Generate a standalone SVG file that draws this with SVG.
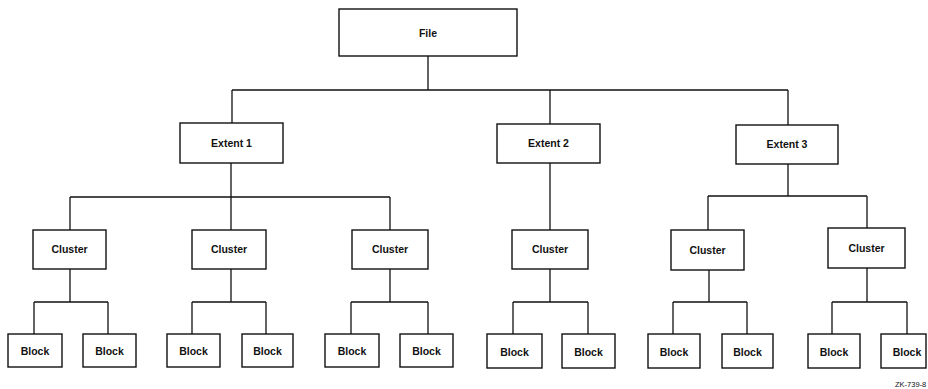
<svg xmlns="http://www.w3.org/2000/svg" width="928" height="389" viewBox="0 0 928 389">
<style>
.box{fill:#fff;stroke:#111;stroke-width:1.4}
.lbl{font-family:"Liberation Sans",Arial,sans-serif;font-size:10.5px;font-weight:bold;fill:#111;text-anchor:middle}
#connectors path{fill:none;stroke:#111;stroke-width:1.3}
.tag{font-family:"Liberation Sans",Arial,sans-serif;font-size:7.5px;fill:#111}
</style>
<rect width="928" height="389" fill="#fff"/>
<g id="connectors">
<path d="M428 56V90M232 90H788M232 90V123M550 90V124M788 90V125"/>
<path d="M231 163V197M70 197H390M70 197V230M231 197V230M390 197V230"/>
<path d="M550 163V230"/>
<path d="M788 164V196M708 196H867M708 196V230M867 196V228"/>
<path d="M70 269V302M34 302H108M34 302V334M108 302V334"/>
<path d="M231 269V302M192 302H266M192 302V334M266 302V334"/>
<path d="M390 269V302M351 302H428M351 302V334M428 302V334"/>
<path d="M550 269V302M513 302H588M513 302V334M588 302V334"/>
<path d="M709 270V302M673 302H747M673 302V334M747 302V334"/>
<path d="M867 268V302M832 302H907M832 302V334M907 302V334"/>
</g>
<g id="file"><rect class="box" x="339" y="9" width="178" height="47"/><text class="lbl" x="428" y="37">File</text></g>
<g id="extent1"><rect class="box" x="180" y="123" width="103" height="40"/><text class="lbl" x="231.5" y="147">Extent 1</text></g>
<g id="extent2"><rect class="box" x="497" y="124" width="103" height="39"/><text class="lbl" x="548.5" y="147">Extent 2</text></g>
<g id="extent3"><rect class="box" x="736" y="125" width="102" height="39"/><text class="lbl" x="787" y="148">Extent 3</text></g>
<g id="cluster1"><rect class="box" x="33" y="230" width="73" height="39"/><text class="lbl" x="69.5" y="253">Cluster</text></g>
<g id="cluster2"><rect class="box" x="192" y="230" width="74" height="39"/><text class="lbl" x="229" y="253">Cluster</text></g>
<g id="cluster3"><rect class="box" x="352" y="230" width="76" height="39"/><text class="lbl" x="390" y="253">Cluster</text></g>
<g id="cluster4"><rect class="box" x="512" y="230" width="76" height="39"/><text class="lbl" x="550" y="253">Cluster</text></g>
<g id="cluster5"><rect class="box" x="671" y="230" width="73" height="40"/><text class="lbl" x="707.5" y="254">Cluster</text></g>
<g id="cluster6"><rect class="box" x="828" y="228" width="77" height="40"/><text class="lbl" x="866.5" y="252">Cluster</text></g>
<g id="block1"><rect class="box" x="8" y="334" width="54" height="33"/><text class="lbl" x="35" y="355">Block</text></g>
<g id="block2"><rect class="box" x="83" y="334" width="53" height="33"/><text class="lbl" x="109.5" y="355">Block</text></g>
<g id="block3"><rect class="box" x="167" y="334" width="53" height="33"/><text class="lbl" x="193.5" y="355">Block</text></g>
<g id="block4"><rect class="box" x="242" y="334" width="51" height="33"/><text class="lbl" x="267.5" y="355">Block</text></g>
<g id="block5"><rect class="box" x="325" y="334" width="54" height="33"/><text class="lbl" x="352" y="355">Block</text></g>
<g id="block6"><rect class="box" x="400" y="334" width="53" height="33"/><text class="lbl" x="426.5" y="355">Block</text></g>
<g id="block7"><rect class="box" x="487" y="334" width="55" height="34"/><text class="lbl" x="514.5" y="356">Block</text></g>
<g id="block8"><rect class="box" x="562" y="334" width="53" height="34"/><text class="lbl" x="588.5" y="356">Block</text></g>
<g id="block9"><rect class="box" x="648" y="334" width="52" height="34"/><text class="lbl" x="674" y="356">Block</text></g>
<g id="block10"><rect class="box" x="722" y="334" width="51" height="34"/><text class="lbl" x="747.5" y="356">Block</text></g>
<g id="block11"><rect class="box" x="808" y="334" width="52" height="34"/><text class="lbl" x="834" y="356">Block</text></g>
<g id="block12"><rect class="box" x="881" y="334" width="45" height="34"/><text class="lbl" x="907" y="356">Block</text></g>
<text class="tag" x="895" y="387">ZK-739-8</text>
</svg>
